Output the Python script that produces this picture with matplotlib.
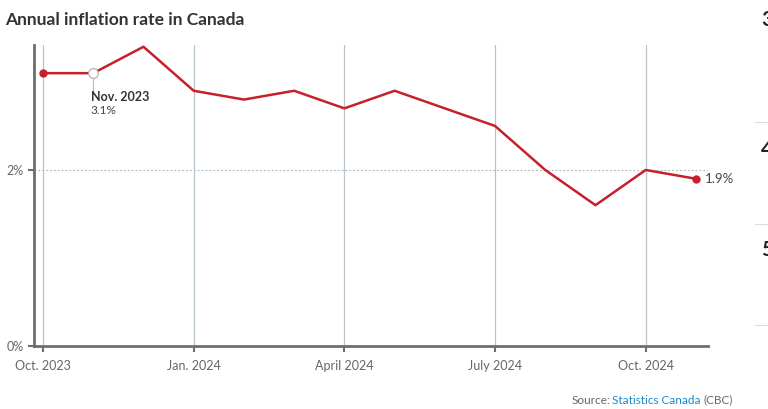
import matplotlib.pyplot as plt

# Annual CPI change, Canada (%)
months = ['Oct. 2023', 'Nov. 2023', 'Dec. 2023', 'Jan. 2024', 'Feb. 2024', 'Mar. 2024',
          'April 2024', 'May 2024', 'June 2024', 'July 2024', 'Aug. 2024', 'Sept. 2024',
          'Oct. 2024', 'Nov. 2024']
inflation = [3.1, 3.1, 3.4, 2.9, 2.8, 2.9, 2.7, 2.9, 2.7, 2.5, 2.0, 1.6, 2.0, 1.9]
tick_idx = [0, 3, 6, 9, 12]
ytick_vals = [0, 2]

red = '#c8202a'
grey_txt = '#666666'
axis_col = '#6e6e6e'
grid_col = '#b8c4cc'

plt.rcParams['font.family'] = ['Lato', 'DejaVu Sans']

fig = plt.figure(figsize=(7.68, 4.09), dpi=100)
ax = fig.add_axes([34 / 768, 1 - 346 / 409, (708 - 34) / 768, (346 - 45) / 409])

x = list(range(len(months)))
ax.set_xlim(-0.18, 13.24)
ax.set_ylim(0, 3.42)

for i in tick_idx:
    ax.axvline(i, color=grid_col, lw=0.9, zorder=1)
ax.axhline(2, color='#aab4bb', lw=0.8, ls=(0, (1.5, 2)), zorder=1)

ax.plot(x, inflation, color=red, lw=1.8, zorder=3)
ax.plot([x[0], x[-1]], [inflation[0], inflation[-1]], 'o', color=red, ms=5, zorder=4)

# highlighted point
hi = 1
ax.plot([x[hi], x[hi]], [inflation[hi], inflation[hi] - 0.2], color='#bbbbbb', lw=0.8, zorder=2)
ax.plot(x[hi], inflation[hi], 'o', mfc='white', mec='#aaaaaa', ms=7, mew=0.8, zorder=5)
ax.text(x[hi] - 0.05, inflation[hi] - 0.2, months[hi], fontsize=9, fontweight='bold',
        color='#333333', va='top', ha='left')
ax.text(x[hi] - 0.05, inflation[hi] - 0.36, f'{inflation[hi]}%', fontsize=8.5,
        color='#444444', va='top', ha='left')

ax.text(x[-1] + 0.18, inflation[-1], f'{inflation[-1]}%', fontsize=9.5, color='#444444',
        va='center', ha='left')

ax.set_xticks(tick_idx)
ax.set_xticklabels([months[i] for i in tick_idx])
ax.set_yticks(ytick_vals)
ax.set_yticklabels([f'{v}%' for v in ytick_vals])
ax.tick_params(axis='both', colors=axis_col, labelcolor=grey_txt, labelsize=9, width=1.5, length=4)
ax.tick_params(axis='x', pad=6)

for s in ['top', 'right']:
    ax.spines[s].set_visible(False)
for s in ['left', 'bottom']:
    ax.spines[s].set_color(axis_col)
    ax.spines[s].set_linewidth(2)

fig.text(5 / 768, 1 - 20 / 409, 'Annual inflation rate in Canada', fontsize=12.5,
         fontweight='bold', color='#333333', va='center', ha='left')

# source line
src_y = 1 - 400 / 409
t3 = fig.text(733 / 768, src_y, '(CBC)', fontsize=8.5, color=grey_txt, ha='right', va='center')
fig.canvas.draw()
r = fig.canvas.get_renderer()
bb = t3.get_window_extent(r)
t2 = fig.text((bb.x0 - 3) / 768, src_y, 'Statistics Canada', fontsize=8.5, color='#1a8ac8',
              ha='right', va='center')
bb2 = t2.get_window_extent(r)
fig.text((bb2.x0 - 2) / 768, src_y, 'Source:', fontsize=8.5, color=grey_txt, ha='right', va='center')

# clipped neighbouring element on the right edge
for lbl, yy in [('3', 20), ('4', 150), ('5', 250)]:
    fig.text(761 / 768, 1 - yy / 409, lbl, fontsize=15, fontweight='bold', color='#222222',
             va='center', ha='left')
for yy in [122, 224, 325]:
    fig.add_artist(plt.Line2D([755 / 768, 1], [1 - yy / 409] * 2, color='#dddddd', lw=0.8))

fig.savefig('out.png', dpi=100)
